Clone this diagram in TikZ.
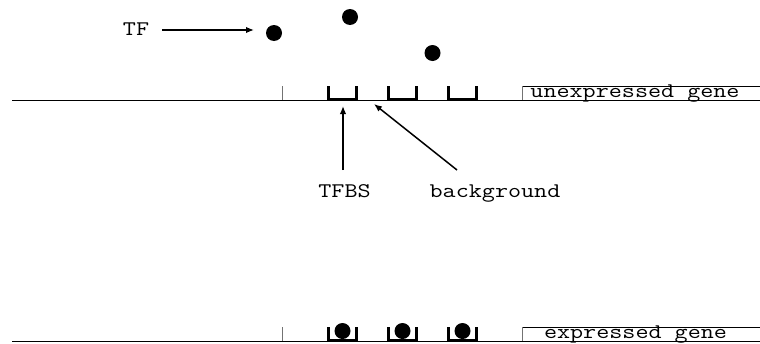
\documentclass[tikz,border=0pt]{standalone}
\usepackage{fontspec}
\newfontfamily\courfont[FakeStretch=1.22]{Latin Modern Mono}
\usetikzlibrary{arrows.meta}
\tikzset{
  lbl/.style={font=\courfont\fontsize{20.8}{23}\selectfont, inner sep=0pt, anchor=base},
  tfdot/.style={circle, fill=black, draw=none, minimum size=16pt, inner sep=0pt},
  dna/.style={line width=1pt, black},
  tick/.style={line width=0.8pt, black!55},
  cup/.style={line width=3.2pt, black, line cap=butt, line join=miter},
  genebox/.style={line width=0.8pt, black},
  genebox side/.style={line width=0.8pt, black!55},
  arr/.style={line width=1.5pt, -{Latex[length=8pt,width=6.5pt]}}
}
\begin{document}
\begin{tikzpicture}[x=1pt,y=-1pt]
\useasboundingbox (0,0) rectangle (760,343);
% ---------- top: unexpressed gene ----------
\draw[dna] (12,100) -- (760,100);
\draw[tick] (282,86) -- (282,100);
\foreach \cx in {342.5,402.5,462.5}{
  \draw[cup] (\cx-14,86) -- (\cx-14,99.5) -- (\cx+14,99.5) -- (\cx+14,86);
}
\draw[genebox] (522,86) -- (760,86);
\draw[genebox side] (522,86) -- (522,100);
\node[lbl] (ug) at (635,97.5) {unexpressed gene};
% TFs
\node[tfdot] (c1) at (274,33) {};
\node[tfdot] (c2) at (350,17) {};
\node[tfdot] (c3) at (432.5,53) {};
\node[lbl] (tf) at (136,35) {TF};
\coordinate (tfa) at (162,30);
\coordinate (tfb) at (254,30);
\draw[arr] (tfa) -- (tfb);
% labels
\node[lbl] (tfbs) at (344.5,197) {TFBS};
\node[lbl] (bg) at (495,197) {background};
\coordinate (tfbsa) at (343,170);
\coordinate (tfbsb) at (343,106);
\draw[arr] (tfbsa) -- (tfbsb);
\coordinate (bga) at (457,170);
\coordinate (bgb) at (374,104);
\draw[arr] (bga) -- (bgb);
% ---------- bottom: expressed gene ----------
\draw[dna] (12,341) -- (760,341);
\draw[tick] (282,327) -- (282,341);
\foreach \cx/\n in {342.5/d1,402.5/d2,462.5/d3}{
  \draw[cup] (\cx-14,327) -- (\cx-14,340.5) -- (\cx+14,340.5) -- (\cx+14,327);
  \node[tfdot] (\n) at (\cx,331) {};
}
\draw[genebox] (522,327) -- (760,327);
\draw[genebox side] (522,327) -- (522,341);
\node[lbl] (eg) at (635.5,338) {expressed gene};
\end{tikzpicture}
\end{document}
